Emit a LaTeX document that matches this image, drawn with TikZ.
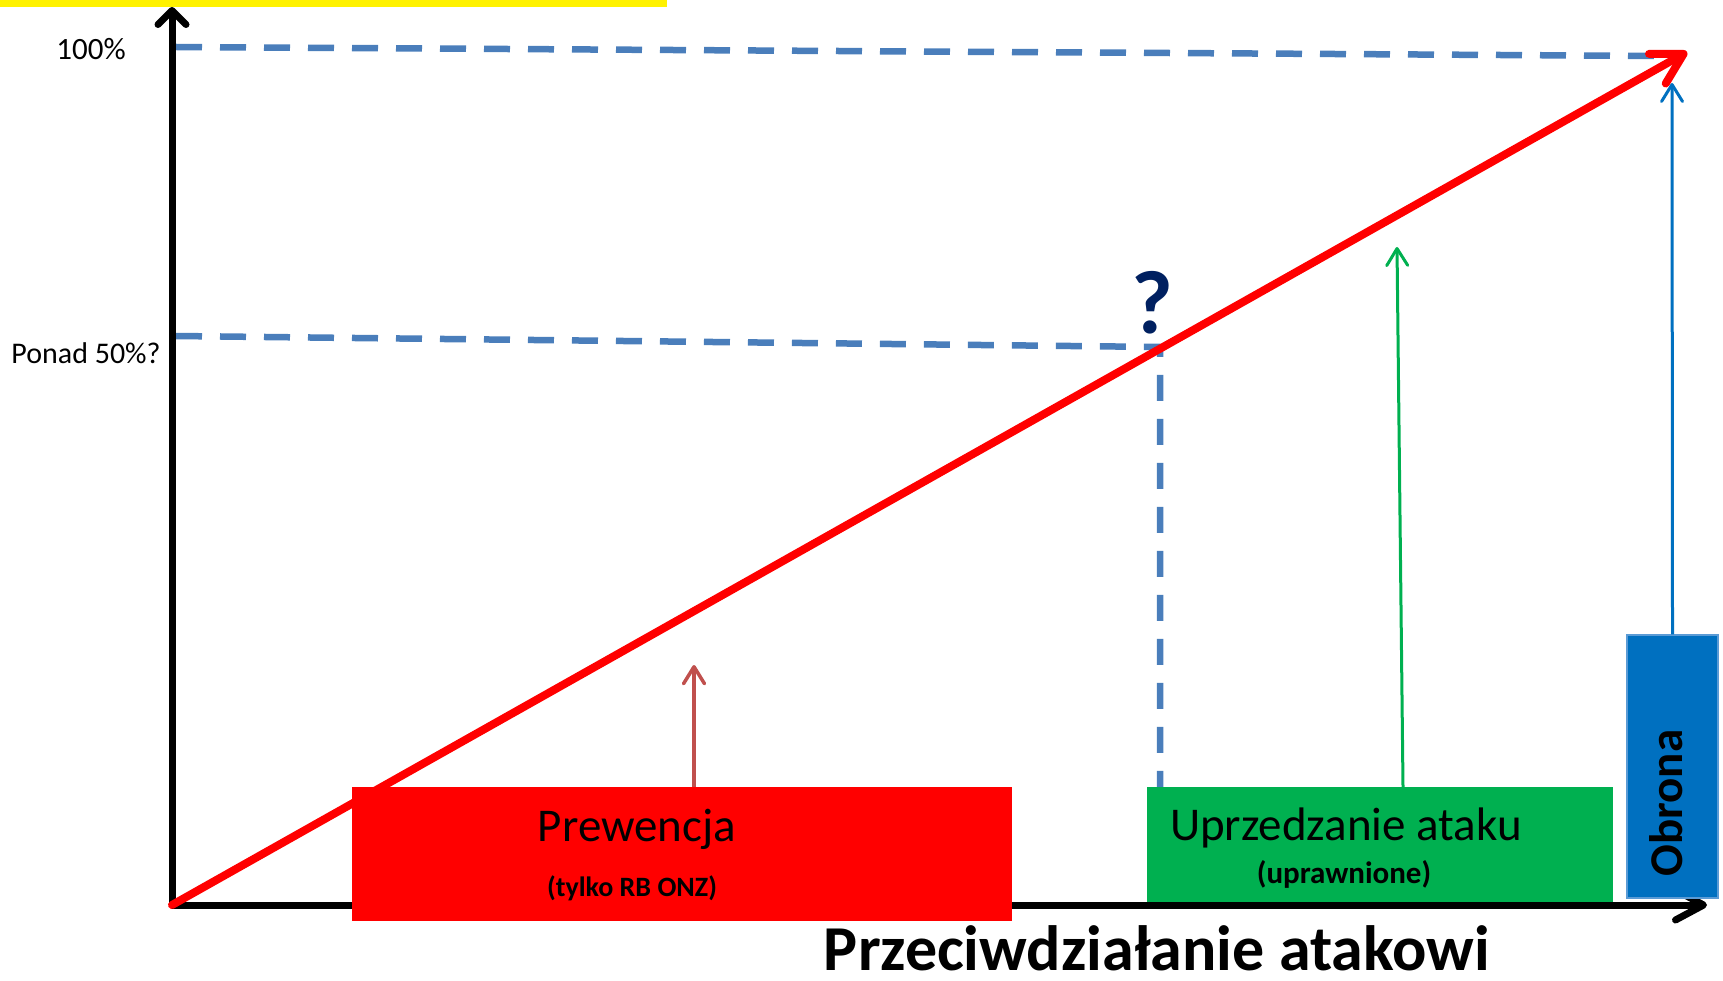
\documentclass[tikz,border=0pt]{standalone}
\usepackage{fontspec}
\setmainfont{Carlito}
\usetikzlibrary{arrows.meta}
\definecolor{guideblue}{RGB}{74,126,187}
\definecolor{prewred}{RGB}{255,0,0}
\definecolor{arrowred}{RGB}{192,80,77}
\definecolor{uprgreen}{RGB}{0,176,80}
\definecolor{obrblue}{RGB}{0,112,192}
\definecolor{obredge}{RGB}{91,155,213}
\definecolor{qnavy}{RGB}{0,32,96}
\begin{document}
\begin{tikzpicture}[x=1pt,y=-1pt,
    guide/.style={guideblue, line width=6.5pt, dash pattern=on 26pt off 18pt},
    axisline/.style={black, line width=7pt},
    upline/.style={line width=3.5pt, -{Straight Barb[length=17pt,width=21pt,round]}},
    bigtext/.style={anchor=base, inner sep=0pt, font=\fontsize{47}{50}\selectfont},
    subtext/.style={anchor=base, inner sep=0pt, font=\bfseries\fontsize{#1}{#1}\selectfont}]
  \useasboundingbox (0,0) rectangle (1723,981);
  \fill[yellow] (0,0) rectangle (667,7);
  % guide lines
  \draw[guide] (176,47) -- (1665,56);
  \draw[guide] (176,336) -- (1160,347) -- (1160,905);
  % axes
  \coordinate (O) at (172,905);
  \coordinate (ytop) at (172,7);
  \coordinate (xend) at (1707,905);
  \coordinate (redend) at (1687,52);
  \draw[axisline, -{Straight Barb[length=14pt,width=28pt,round]}] (O) -- (ytop);
  \draw[axisline, -{Straight Barb[length=28pt,width=30pt,round]}] (O) -- (xend);
  \draw[prewred, line width=8pt, line cap=round,
    -{Straight Barb[length=30pt,width=34pt,round]}] (O) -- (redend);
  % boxes
  \node[fill=prewred, minimum width=660pt, minimum height=134pt, inner sep=0pt] (prew) at (682,854) {};
  \node[fill=uprgreen, minimum width=466pt, minimum height=115pt, inner sep=0pt] (upr) at (1380,844.5) {};
  \node[fill=obrblue, draw=obredge, line width=1.5pt, minimum width=91pt, minimum height=263pt, inner sep=0pt] (obr) at (1672.5,766.5) {};
  % arrows up
  \coordinate (prewtip) at (694,665);
  \coordinate (uprtip) at (1397,247);
  \coordinate (obrtip) at (1672,83);
  \draw[upline, arrowred] ([xshift=12pt]prew.north) -- (prewtip);
  \draw[upline, uprgreen, line width=3pt] ([xshift=23pt]upr.north) -- (uprtip);
  \draw[upline, obrblue, line width=3pt] (obr.north) -- (obrtip);
  % labels
  \node[bigtext] (prewtxt) at (637,841) {Prewencja};
  \node[subtext=28] (prewsub) at (632,896) {(tylko RB ONZ)};
  \node[bigtext] (uprtxt) at (1346,840) {Uprzedzanie ataku};
  \node[subtext=31] (uprsub) at (1344,883) {(uprawnione)};
  \node[rotate=90, inner sep=0pt, font=\bfseries\fontsize{47}{50}\selectfont] (obrtxt) at (1666,803) {Obrona};
  \node[anchor=base, inner sep=0pt, font=\fontsize{31}{33}\selectfont] (pcttop) at (91,60) {100\%};
  \node[anchor=base, inner sep=0pt, font=\fontsize{30}{33}\selectfont] (pctmid) at (86,363) {Ponad 50\%?};
  \node[subtext=90, qnavy] (qmark) at (1152,334) {?};
  \node[subtext=64] (xlabel) at (1157,970) {Przeciwdziałanie atakowi};
\end{tikzpicture}
\end{document}
